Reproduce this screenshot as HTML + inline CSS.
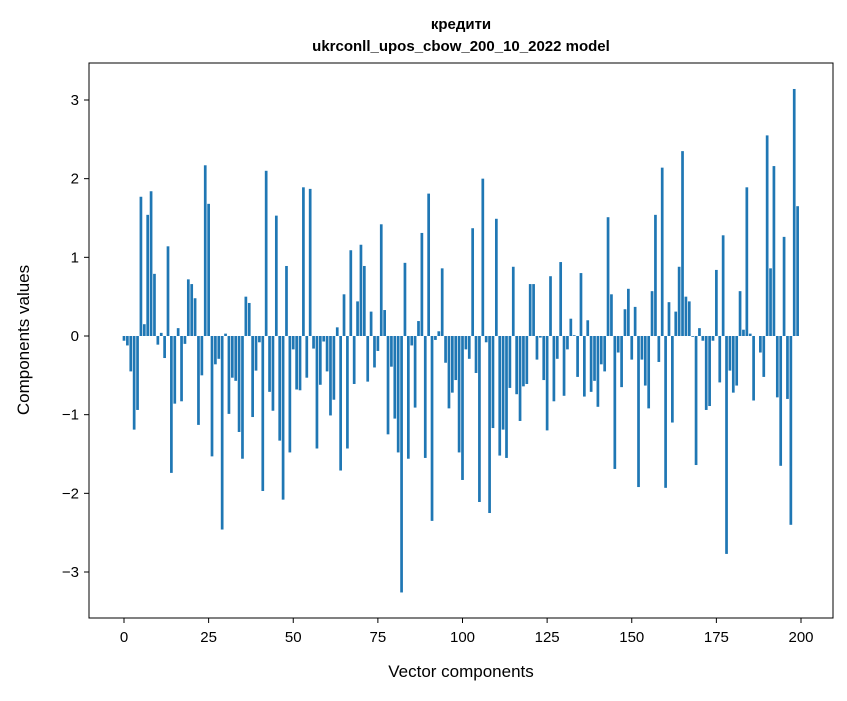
<!DOCTYPE html>
<html><head><meta charset="utf-8"><style>
body{margin:0;background:#fff;font-family:"Liberation Sans","DejaVu Sans",sans-serif}
</style></head><body>
<svg id="chart" width="847" height="696" xmlns="http://www.w3.org/2000/svg" font-family="Liberation Sans, DejaVu Sans, sans-serif">
<rect width="847" height="696" fill="#fff"/>
<text x="461" y="29" text-anchor="middle" font-size="15" font-weight="bold">кредити</text>
<text x="461" y="51" text-anchor="middle" font-size="15" font-weight="bold">ukrconll_upos_cbow_200_10_2022 model</text>
<g id="bars"></g>
<g id="xticks"></g>
<g id="yticks"></g>
<rect x="89" y="63" width="744" height="555" fill="none" stroke="#000" stroke-width="1"/>
<text x="461" y="677" text-anchor="middle" font-size="17">Vector components</text>
<text transform="translate(29,340) rotate(-90)" text-anchor="middle" font-size="17">Components values</text>
</svg>
<script>
const values = [
-0.06,-0.12,-0.45,-1.19,-0.94,1.77,0.15,1.54,1.84,0.79,
-0.11,0.04,-0.28,1.14,-1.74,-0.86,0.10,-0.83,-0.10,0.72,
0.66,0.48,-1.13,-0.50,2.17,1.68,-1.53,-0.36,-0.29,-2.46,
0.03,-0.99,-0.53,-0.57,-1.22,-1.56,0.50,0.42,-1.03,-0.44,
-0.08,-1.97,2.10,-0.71,-0.95,1.53,-1.33,-2.08,0.89,-1.48,
-0.17,-0.68,-0.69,1.89,-0.53,1.87,-0.16,-1.43,-0.62,-0.07,
-0.45,-1.01,-0.81,0.11,-1.71,0.53,-1.43,1.09,-0.61,0.44,
1.16,0.89,-0.58,0.31,-0.40,-0.19,1.42,0.33,-1.25,-0.39,
-1.05,-1.48,-3.26,0.93,-1.56,-0.12,-0.91,0.19,1.31,-1.55,
1.81,-2.35,-0.05,0.06,0.86,-0.34,-0.92,-0.72,-0.56,-1.48,
-1.83,-0.17,-0.29,1.37,-0.47,-2.11,2.00,-0.08,-2.25,-1.17,
1.49,-1.52,-1.19,-1.55,-0.66,0.88,-0.74,-1.08,-0.64,-0.61,
0.66,0.66,-0.30,-0.02,-0.56,-1.20,0.76,-0.83,-0.29,0.94,
-0.76,-0.17,0.22,0.01,-0.52,0.80,-0.77,0.20,-0.71,-0.57,
-0.90,-0.36,-0.45,1.51,0.53,-1.69,-0.21,-0.65,0.34,0.60,
-0.30,0.37,-1.92,-0.30,-0.63,-0.92,0.57,1.54,-0.33,2.14,
-1.93,0.43,-1.10,0.31,0.88,2.35,0.50,0.44,-0.01,-1.64,
0.10,-0.06,-0.94,-0.89,-0.06,0.84,-0.59,1.28,-2.77,-0.44,
-0.72,-0.63,0.57,0.08,1.89,0.03,-0.82,0.00,-0.21,-0.52,
2.55,0.86,2.16,-0.78,-1.65,1.26,-0.80,-2.40,3.14,1.65
];
const xTicks = [0,25,50,75,100,125,150,175,200];
const yTicks = [-3,-2,-1,0,1,2,3];
const yTickLabels = ["\u22123","\u22122","\u22121","0","1","2","3"];

const NS = "http://www.w3.org/2000/svg";
function xs(v){ return 124 + v*3.385; }
function ys(v){ return 336 - v*78.67; }
const barsG = document.getElementById('bars');
values.forEach((v,i)=>{
  const r = document.createElementNS(NS,'rect');
  const y0 = ys(Math.max(v,0)), y1 = ys(Math.min(v,0));
  r.setAttribute('x', xs(i-0.4));
  r.setAttribute('y', y0);
  r.setAttribute('width', 0.8*3.385);
  r.setAttribute('height', Math.max(y1-y0,0));
  r.setAttribute('fill','#1f77b4');
  
  
  barsG.appendChild(r);
});
const xg = document.getElementById('xticks');
xTicks.forEach(t=>{
  const l = document.createElementNS(NS,'line');
  l.setAttribute('x1',xs(t)); l.setAttribute('x2',xs(t));
  l.setAttribute('y1',618); l.setAttribute('y2',623);
  l.setAttribute('stroke','#000');
  
  
  xg.appendChild(l);
  const tx = document.createElementNS(NS,'text');
  tx.setAttribute('x',xs(t)); tx.setAttribute('y',642);
  tx.setAttribute('text-anchor','middle'); tx.setAttribute('font-size','15');
  tx.textContent = t;
  
  
  xg.appendChild(tx);
});
const yg = document.getElementById('yticks');
yTicks.forEach((t,k)=>{
  const l = document.createElementNS(NS,'line');
  l.setAttribute('x1',84); l.setAttribute('x2',89);
  l.setAttribute('y1',ys(t)); l.setAttribute('y2',ys(t));
  l.setAttribute('stroke','#000');
  
  
  yg.appendChild(l);
  const tx = document.createElementNS(NS,'text');
  tx.setAttribute('x',79); tx.setAttribute('y',ys(t)+5);
  tx.setAttribute('text-anchor','end'); tx.setAttribute('font-size','15');
  tx.textContent = yTickLabels[k];
  
  
  yg.appendChild(tx);
});
</script>
</body></html>
